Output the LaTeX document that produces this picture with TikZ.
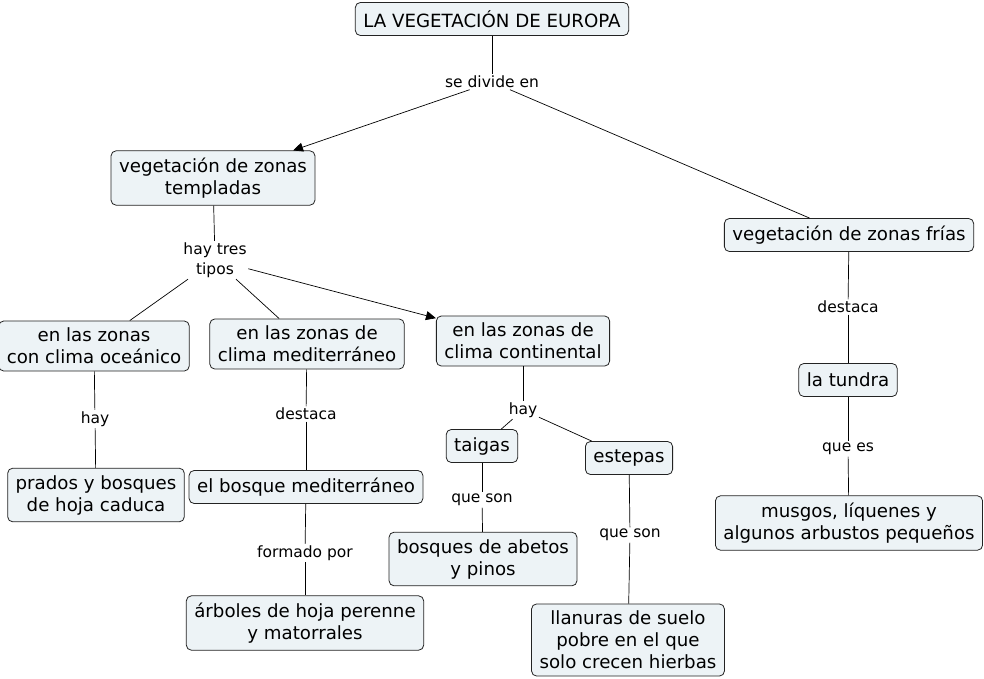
\documentclass[tikz,border=0pt]{standalone}
\usepackage{fontspec}
\setmainfont{DejaVu Sans}
\usetikzlibrary{arrows.meta}
\definecolor{conceptFill}{RGB}{237,243,246}
\definecolor{conceptLine}{RGB}{35,35,35}
\tikzset{
  concept/.style={rounded corners=5pt,draw=conceptLine,fill=conceptFill,line width=0.8pt,
    align=center,inner xsep=8pt,inner ysep=7pt,minimum height=33pt,font=\fontsize{18.2}{22}\selectfont},
  linkText/.style={align=center,inner sep=1.5pt,font=\fontsize{15.5}{20}\selectfont},
  link/.style={draw=black,line width=0.7pt},
  linkArrow/.style={link,-{Triangle[length=10pt,width=9pt]}}
}
\begin{document}
\begin{tikzpicture}[x=1pt,y=-1pt]
\useasboundingbox (0,0) rectangle (984,679);
% conceptos
\node[concept] (europa) at (492,19) {LA VEGETACIÓN DE EUROPA};
\node[concept] (templadas) at (213,178) {vegetación de zonas\\templadas};
\node[concept] (frias) at (849,235) {vegetación de zonas frías};
\node[concept] (oceanico) at (94,346) {en las zonas\\con clima oceánico};
\node[concept] (mediterraneo) at (307,344) {en las zonas de\\clima mediterráneo};
\node[concept] (continental) at (523,341) {en las zonas de\\clima continental};
\node[concept] (taigas) at (482,446) {taigas};
\node[concept] (estepas) at (629,458) {estepas};
\node[concept] (prados) at (96,495) {prados y bosques\\de hoja caduca};
\node[concept] (bosqueMed) at (306,487) {el bosque mediterráneo};
\node[concept] (arboles) at (305,623) {árboles de hoja perenne\\y matorrales};
\node[concept] (abetos) at (483,559) {bosques de abetos\\y pinos};
\node[concept] (llanuras) at (628,640) {llanuras de suelo\\pobre en el que\\solo crecen hierbas};
\node[concept] (tundra) at (848,380) {la tundra};
\node[concept] (musgos) at (849,523) {musgos, líquenes y\\algunos arbustos pequeños};
% enlaces
\node[linkText] (seDivide) at (492,82) {se divide en};
\node[linkText] (hayTres) at (215,260) {hay tres\\tipos};
\node[linkText] (hayOce) at (95,419) {hay};
\node[linkText] (destacaMed) at (306,414) {destaca};
\node[linkText] (hayCont) at (523,410) {hay};
\node[linkText] (formado) at (305,553) {formado por};
\node[linkText] (queSonT) at (482,500) {que son};
\node[linkText] (queSonE) at (630,535) {que son};
\node[linkText] (destacaFr) at (848,307) {destaca};
\node[linkText] (queEs) at (848,449) {que es};
% conectores
\draw[link] (europa) -- (seDivide);
\draw[linkArrow] (seDivide) -- (templadas);
\draw[link] (seDivide) -- (frias);
\draw[link] (templadas) -- (hayTres);
\draw[link] (hayTres) -- (oceanico);
\draw[link] (hayTres) -- (mediterraneo);
\draw[linkArrow] (hayTres) -- (continental);
\draw[link] (oceanico) -- (hayOce);
\draw[link] (hayOce) -- (prados);
\draw[link] (mediterraneo) -- (destacaMed);
\draw[link] (destacaMed) -- (bosqueMed);
\draw[link] (bosqueMed) -- (formado);
\draw[link] (formado) -- (arboles);
\draw[link] (continental) -- (hayCont);
\draw[link] (hayCont) -- (taigas);
\draw[link] (hayCont) -- (estepas);
\draw[link] (taigas) -- (queSonT);
\draw[link] (queSonT) -- (abetos);
\draw[link] (estepas) -- (queSonE);
\draw[link] (queSonE) -- (llanuras);
\draw[link] (frias) -- (destacaFr);
\draw[link] (destacaFr) -- (tundra);
\draw[link] (tundra) -- (queEs);
\draw[link] (queEs) -- (musgos);
\end{tikzpicture}
\end{document}
